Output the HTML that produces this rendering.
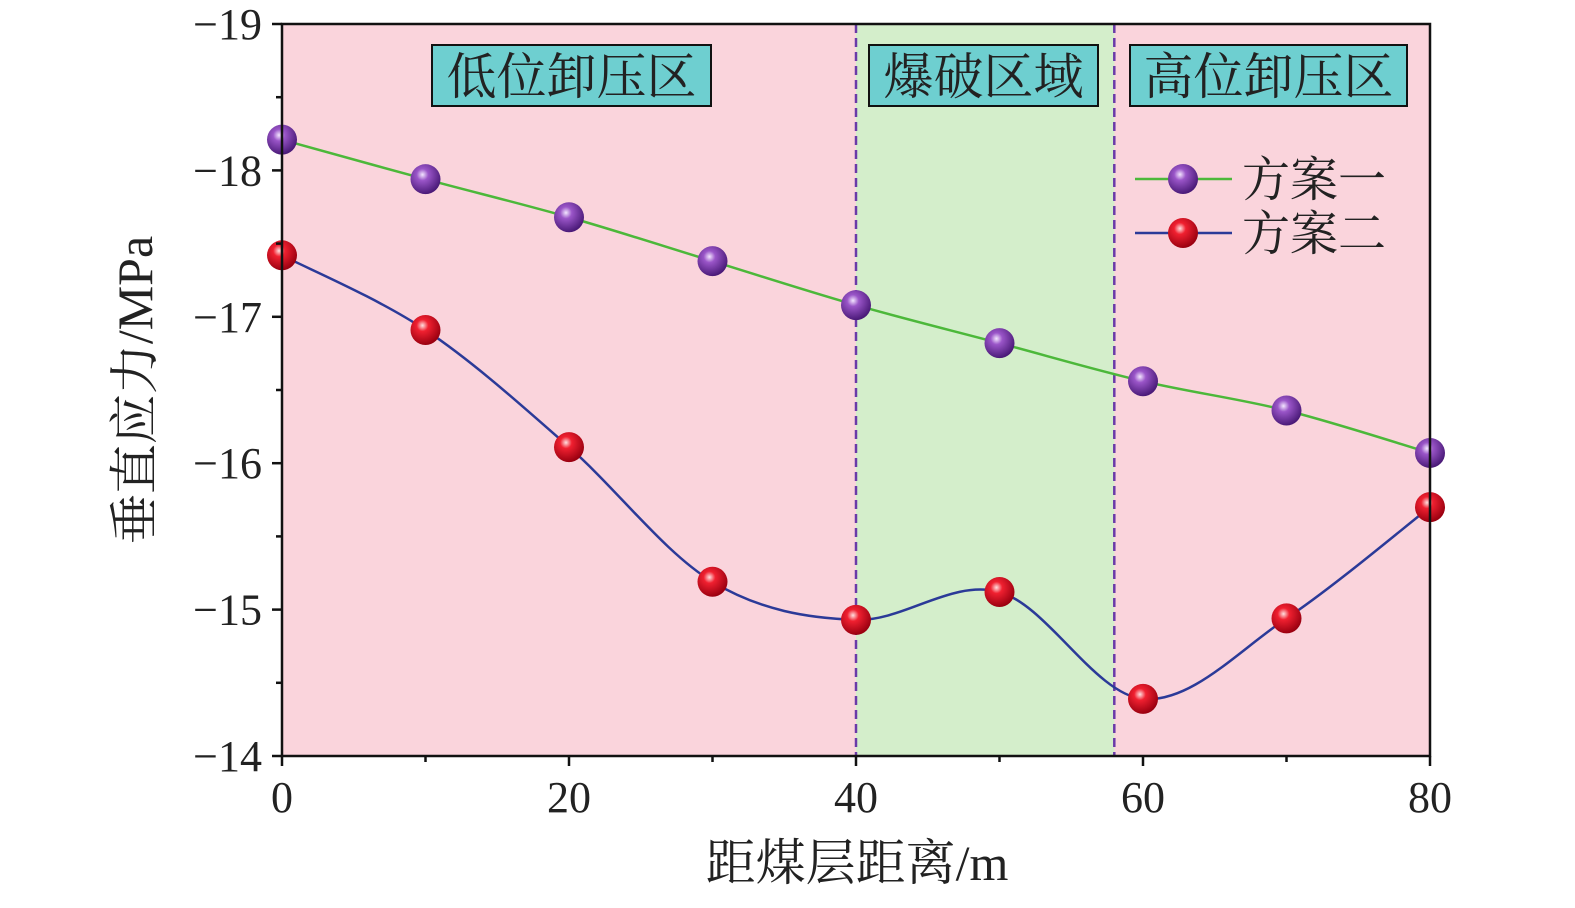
<!DOCTYPE html>
<html><head><meta charset="utf-8"><style>
body{margin:0;background:#fff}
svg text{font-family:"Liberation Serif","Noto Serif CJK SC",serif;fill:#222}
</style></head><body>
<svg id="chart" width="1575" height="903" xmlns="http://www.w3.org/2000/svg">
<defs>
<radialGradient id="gp" cx="0.4" cy="0.35" r="0.65"><stop offset="0" stop-color="#f3e6ff"/><stop offset="0.3" stop-color="#9a55c8"/><stop offset="1" stop-color="#4a1a78"/></radialGradient>
<radialGradient id="gr" cx="0.4" cy="0.35" r="0.65"><stop offset="0" stop-color="#ffe0e0"/><stop offset="0.3" stop-color="#f02030"/><stop offset="1" stop-color="#9a0010"/></radialGradient>
</defs>
<g id="plot"></g>
</svg>
<script>
const xValues=[0,10,20,30,40,50,60,70,80];
const scheme1=[-18.21,-17.94,-17.68,-17.38,-17.08,-16.82,-16.56,-16.36,-16.07];
const scheme2=[-17.42,-16.91,-16.11,-15.19,-14.93,-15.12,-14.39,-14.94,-15.70];
const xTicks=[0,20,40,60,80];
const yTicks=[-19,-18,-17,-16,-15,-14];
const blastStart=40, blastEnd=58;
const NS="http://www.w3.org/2000/svg";
const L=282,R=1430,T=24,B=756;
const xs=v=>L+(v-0)/80*(R-L);
const ys=v=>T+(v+19)/5*(B-T);
const g=document.getElementById('plot');
function mk(t,a,p){const e=document.createElementNS(NS,t);for(const k in a)e.setAttribute(k,a[k]);(p||g).appendChild(e);return e;}
let e;
e=mk('rect',{x:L,y:T,width:R-L,height:B-T,fill:'#fad4dc'});

e=mk('rect',{x:xs(blastStart),y:T,width:xs(blastEnd)-xs(blastStart),height:B-T,fill:'#d4eecb'});

[blastStart,blastEnd].forEach(v=>{e=mk('line',{x1:xs(v),x2:xs(v),y1:T,y2:B,stroke:'#6a3aa8','stroke-width':2.5,'stroke-dasharray':'9,5'});
});
[[432,711,'低位卸压区','low-relief-label'],[869,1098,'爆破区域','blast-label'],[1130,1407,'高位卸压区','high-relief-label']].forEach(z=>{
 e=mk('rect',{x:z[0],y:45,width:z[1]-z[0],height:61,fill:'#6ecfd0',stroke:'#111','stroke-width':2});
 
 e=mk('text',{x:(z[0]+z[1])/2,y:94,'text-anchor':'middle','font-size':50});e.textContent=z[2];
 
});
function spline(xv,yv){const p=xv.map((x,i)=>[xs(x),ys(yv[i])]);let d=`M${p[0][0]},${p[0][1]}`;
 for(let i=0;i<p.length-1;i++){const p0=p[i-1]||p[i],p1=p[i],p2=p[i+1],p3=p[i+2]||p[i+1];
 const c1=[p1[0]+(p2[0]-p0[0])/6,p1[1]+(p2[1]-p0[1])/6],c2=[p2[0]-(p3[0]-p1[0])/6,p2[1]-(p3[1]-p1[1])/6];
 d+=` C${c1[0]},${c1[1]} ${c2[0]},${c2[1]} ${p2[0]},${p2[1]}`;}return d;}
[[scheme1,'#4cb83a','url(#gp)','scheme1'],[scheme2,'#2b3a98','url(#gr)','scheme2']].forEach(s=>{
 e=mk('path',{d:spline(xValues,s[0]),fill:'none',stroke:s[1],'stroke-width':2.5});
 
 s[0].forEach((v,i)=>{e=mk('circle',{cx:xs(xValues[i]),cy:ys(v),r:15,fill:s[2]});
 });
});
e=mk('rect',{x:L,y:T,width:R-L,height:B-T,fill:'none',stroke:'#111','stroke-width':2.5});

yTicks.forEach(v=>{mk('line',{x1:L-10,x2:L,y1:ys(v),y2:ys(v),stroke:'#111','stroke-width':2.5});
 e=mk('text',{x:L-20,y:ys(v)+15,'text-anchor':'end','font-size':44});e.textContent='\u2212'+Math.abs(v);
 
 if(v<-14){mk('line',{x1:L-6,x2:L,y1:ys(v+0.5),y2:ys(v+0.5),stroke:'#111','stroke-width':2.5});}});
xTicks.forEach(v=>{mk('line',{x1:xs(v),x2:xs(v),y1:B,y2:B+10,stroke:'#111','stroke-width':2.5});
 e=mk('text',{x:xs(v),y:B+56,'text-anchor':'middle','font-size':44});e.textContent=v;
 
 if(v<80)mk('line',{x1:xs(v+10),x2:xs(v+10),y1:B,y2:B+6,stroke:'#111','stroke-width':2.5});});
e=mk('text',{x:857,y:880,'text-anchor':'middle','font-size':50});e.textContent='距煤层距离/m';

e=mk('text',{x:0,y:0,'text-anchor':'middle','font-size':50,transform:'translate(152,390) rotate(-90)'});e.textContent='垂直应力/MPa';

[[179,'#4cb83a','url(#gp)','方案一','legend-scheme1'],[233,'#2b3a98','url(#gr)','方案二','legend-scheme2']].forEach(l=>{
 const lg=mk('g',{});
 mk('line',{x1:1135,x2:1232,y1:l[0],y2:l[0],stroke:l[1],'stroke-width':2.5},lg);
 mk('circle',{cx:1183,cy:l[0],r:15,fill:l[2]},lg);
 const t=mk('text',{x:1242,y:l[0]+17,'font-size':48},lg);t.textContent=l[3];
});
</script>
</body></html>
